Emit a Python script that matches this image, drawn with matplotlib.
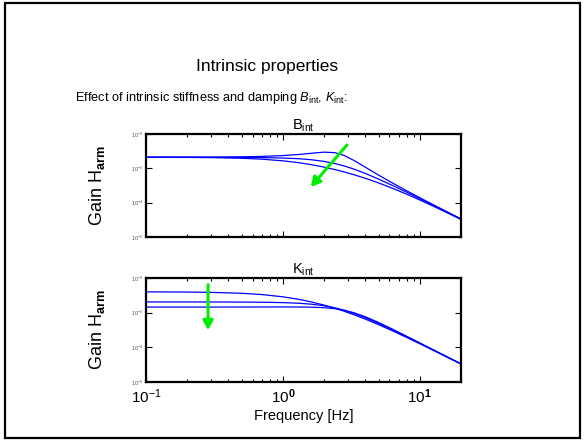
import numpy as np
import matplotlib
matplotlib.use("Agg")
import matplotlib.pyplot as plt
from matplotlib.patches import Rectangle
from matplotlib.ticker import LogLocator, NullFormatter, FixedLocator

plt.rcParams['font.family'] = ['Liberation Sans', 'DejaVu Sans']
plt.rcParams['mathtext.fontset'] = 'custom'
plt.rcParams['mathtext.rm'] = 'Liberation Sans'
plt.rcParams['mathtext.it'] = 'Liberation Sans:italic'
plt.rcParams['mathtext.sf'] = 'Liberation Sans'
plt.rcParams['mathtext.bf'] = 'Liberation Sans:bold'

# frequency grid (Hz) read along the x axis
freq = [0.1, 0.2, 0.3, 0.5, 0.7, 1.0, 1.3, 1.6, 2.0, 2.4, 2.8, 3.3, 4.0,
        5.0, 6.3, 8.0, 10, 13, 16, 20]

# top panel: three damping values B_int
gain_b_low = [2.107e-3, 2.115e-3, 2.126e-3, 2.165e-3, 2.223e-3, 2.351e-3, 2.527e-3,
              2.737e-3, 2.960e-3, 2.861e-3, 2.380e-3, 1.704e-3, 1.078e-3, 6.35e-4,
              3.756e-4, 2.233e-4, 1.394e-4, 8.10e-5, 5.30e-5, 3.370e-5]
gain_b_mid = [2.104e-3, 2.102e-3, 2.097e-3, 2.081e-3, 2.056e-3, 1.996e-3, 1.907e-3,
              1.788e-3, 1.592e-3, 1.379e-3, 1.174e-3, 9.50e-4, 7.105e-4, 4.86e-4,
              3.183e-4, 2.019e-4, 1.308e-4, 7.80e-5, 5.171e-5, 3.318e-5]
gain_b_high = [2.099e-3, 2.081e-3, 2.051e-3, 1.964e-3, 1.849e-3, 1.656e-3, 1.463e-3,
               1.287e-3, 1.085e-3, 9.20e-4, 7.86e-4, 6.53e-4, 5.13e-4, 3.76e-4,
               2.637e-4, 1.773e-4, 1.197e-4, 7.38e-5, 4.981e-5, 3.238e-5]

# bottom panel: three stiffness values K_int
gain_k_low = [3.983e-3, 3.933e-3, 3.853e-3, 3.622e-3, 3.333e-3, 2.868e-3, 2.433e-3,
              2.058e-3, 1.652e-3, 1.340e-3, 1.0995e-3, 8.733e-4, 6.513e-4, 4.511e-4,
              3.009e-4, 1.941e-4, 1.273e-4, 7.674e-5, 5.113e-5, 3.294e-5]
gain_k_mid = [2.040e-3, 2.038e-3, 2.034e-3, 2.021e-3, 2.000e-3, 1.949e-3, 1.871e-3,
              1.763e-3, 1.581e-3, 1.377e-3, 1.1765e-3, 9.548e-4, 7.144e-4, 4.884e-4,
              3.195e-4, 2.024e-4, 1.310e-4, 7.811e-5, 5.175e-5, 3.320e-5]
gain_k_high = [1.4495e-3, 1.450e-3, 1.451e-3, 1.4535e-3, 1.4567e-3, 1.460e-3, 1.457e-3,
               1.442e-3, 1.392e-3, 1.301e-3, 1.176e-3, 9.970e-4, 7.635e-4, 5.214e-4,
               3.363e-4, 2.098e-4, 1.3425e-4, 7.929e-5, 5.227e-5, 3.341e-5]

# arrows (start, end) in data coordinates
arrow_b = [(3.03, 5.5e-3), (1.55, 2.5e-4)]
arrow_k = [(0.284, 7.7e-3), (0.284, 2.6e-4)]

xtick_vals = [0.1, 1, 10]
xtick_labels = ['$\\mathsf{10}^{\\mathsf{-1}}$', '$\\mathsf{10}^{\\mathbf{0}}$',
                '$\\mathsf{10}^{\\mathbf{1}}$']
ytick_vals = [1e-5, 1e-4, 1e-3, 1e-2]
ytick_labels = ['10$^{-5}$', '10$^{-4}$', '10$^{-3}$', '10$^{-2}$']

fig = plt.figure(figsize=(5.85, 4.41), dpi=100)
fig.patches.append(Rectangle((5 / 585, 3 / 441), 575 / 585, 435 / 441,
                             transform=fig.transFigure, fill=False,
                             edgecolor='black', linewidth=1.6))

fig.text(267 / 585, 1 - 66 / 441, 'Intrinsic properties', ha='center', va='center',
         fontsize=12.5)
fig.text(75 / 585, 1 - 98 / 441,
         'Effect of intrinsic stiffness and damping $B_{\\mathrm{int}}$, $K_{\\mathrm{int}}$:',
         ha='left', va='center', fontsize=9.2)

ax1 = fig.add_axes([146 / 585, 1 - 237 / 441, 315 / 585, 103 / 441])
ax2 = fig.add_axes([146 / 585, 1 - 382 / 441, 315 / 585, 104 / 441])

blue = '#0000ff'
for g in (gain_b_low, gain_b_mid, gain_b_high):
    ax1.plot(freq, g, color=blue, linewidth=0.9)
for g in (gain_k_low, gain_k_mid, gain_k_high):
    ax2.plot(freq, g, color=blue, linewidth=0.9)

for ax, arr in ((ax1, arrow_b), (ax2, arrow_k)):
    ax.annotate('', xy=arr[1], xytext=arr[0],
                arrowprops=dict(arrowstyle='-|>,head_length=0.55,head_width=0.3',
                                color='#00ee00', linewidth=2.2))

for ax in (ax1, ax2):
    ax.set_xscale('log')
    ax.set_yscale('log')
    ax.set_xlim(0.1, 20)
    ax.set_ylim(1e-5, 1e-2)
    ax.yaxis.set_major_locator(FixedLocator(ytick_vals))
    ax.set_yticklabels(ytick_labels, fontsize=4, color='#555555')
    ax.yaxis.set_minor_locator(LogLocator(base=10, subs=np.arange(2, 10)))
    ax.yaxis.set_minor_formatter(NullFormatter())
    ax.xaxis.set_major_locator(FixedLocator(xtick_vals))
    ax.xaxis.set_minor_locator(LogLocator(base=10, subs=np.arange(2, 10)))
    ax.xaxis.set_minor_formatter(NullFormatter())
    ax.tick_params(which='both', direction='in', top=True, right=True, width=0.8)
    ax.tick_params(which='major', length=4, pad=2)
    ax.tick_params(which='minor', length=2)
    for s in ax.spines.values():
        s.set_linewidth(1.6)
    ax.set_ylabel('Gain H$_{\\mathbf{arm}}$', fontsize=13, labelpad=17)

ax1.set_xticklabels([])
ax2.set_xticklabels(xtick_labels, fontsize=11)
ax2.tick_params(axis='x', which='major', pad=4)
ax2.set_xlabel('Frequency [Hz]', fontsize=10.5, labelpad=2)

ax1.set_title('B$_{\\mathsf{int}}$', fontsize=10.5, pad=2)
ax2.set_title('K$_{\\mathsf{int}}$', fontsize=10.5, pad=2)

fig.savefig('out.png', dpi=100)
